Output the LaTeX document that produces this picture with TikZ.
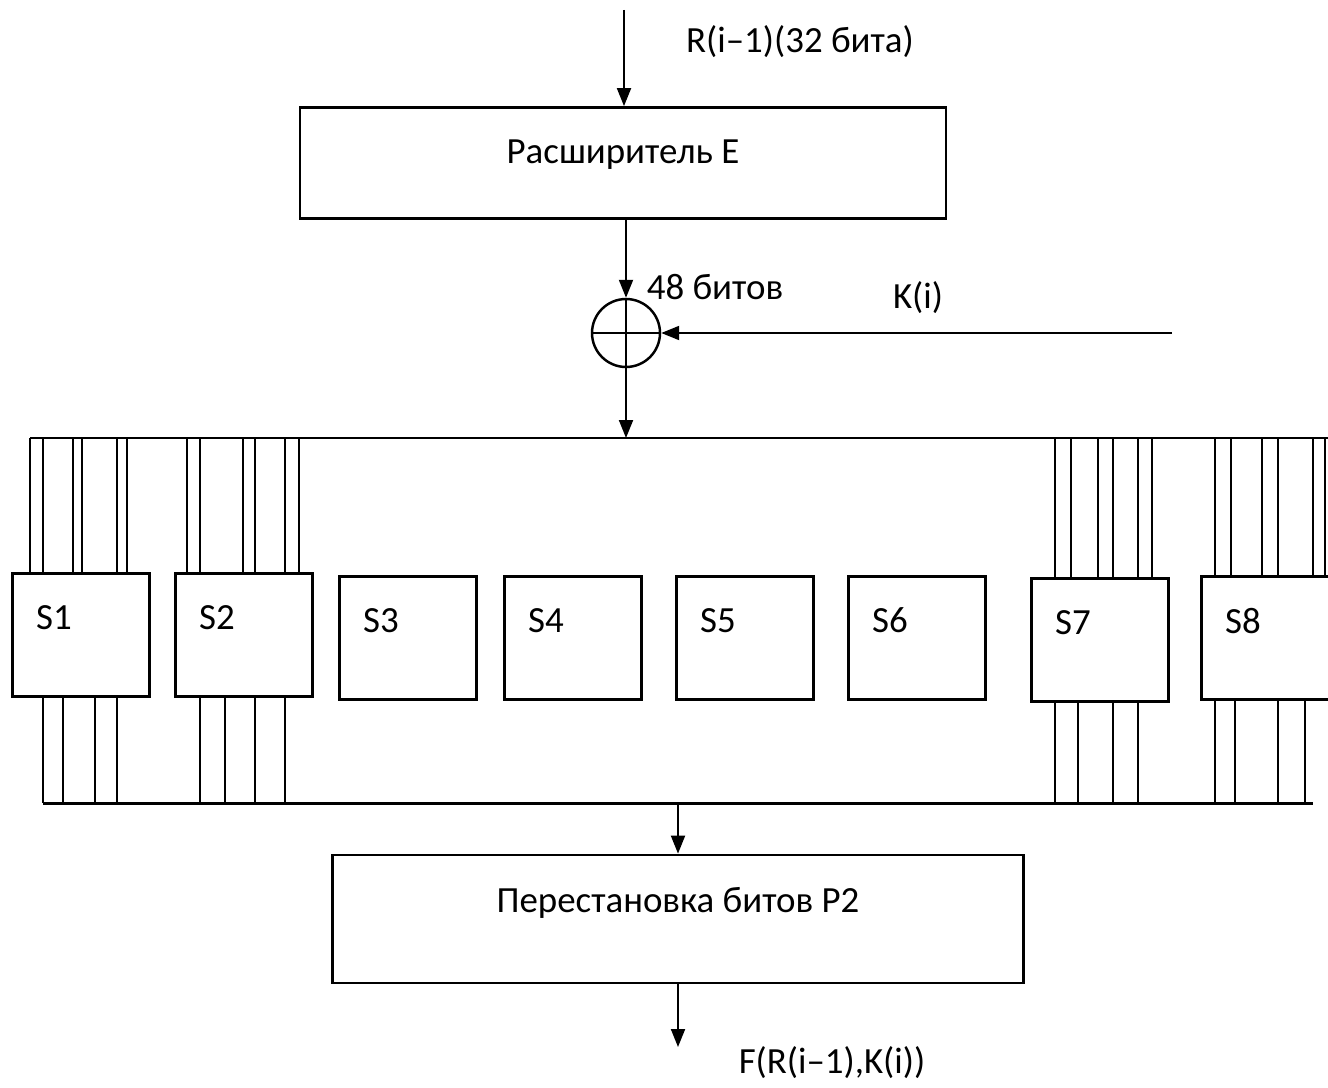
\documentclass[tikz,border=0pt]{standalone}
\usepackage{fontspec}
\setmainfont{Carlito}
\usetikzlibrary{positioning,arrows.meta,calc}

\begin{document}
\begin{tikzpicture}[
    x=0.02cm,
    y=-0.02cm,
    font=\fontsize{21}{25}\selectfont,
    line width=1.1pt,
    block/.style={
        draw,
        line width=1.6pt,
        inner sep=0pt
    },
    sbox/.style={block, minimum width=2.74cm, minimum height=2.46cm},
    slabel/.style={anchor=north west, inner sep=0pt, xshift=0.48cm, yshift=-0.64cm},
    xorop/.style={draw, circle, line width=1.4pt, minimum size=1.36cm, inner sep=0pt},
    arrow/.style={-{Triangle[length=0.36cm, width=0.28cm]}, line width=1.1pt},
    bus/.style={line width=1.7pt},
    wire/.style={line width=1.2pt}
]
\useasboundingbox (0,0) rectangle (1328,1088);

% ============================================================
% РАСШИРИТЕЛЬ И СЛОЖЕНИЕ С КЛЮЧОМ
% ============================================================
\node[block, minimum width=12.92cm, minimum height=2.22cm, text depth=0.45cm]
    (expand) at (623,163) {Расширитель E};
\coordinate (rin) at (624,10);
\node (rlab) at (800,42) {R(i–1)(32 бита)};
\draw[arrow] (rin) -- (rin |- expand.north);

\node[xorop] (xor) at (626,333) {};
\draw[line width=1.4pt] (xor.north) -- (xor.south) (xor.west) -- (xor.east);
\draw[arrow] (expand.south -| xor) -- (xor.north);
\node[anchor=west] (bits48) at (640,287) {48 битов};

\coordinate (kin) at (1172,333);
\node (klab) at (918,298) {K(i)};
\draw[arrow] (kin) -- (xor.east);

% ============================================================
% S-БЛОКИ
% ============================================================
\coordinate (tb) at (30,438);
\coordinate (bb) at (43,803);
\draw[bus] (tb) -- (1340,438);
\draw[bus] (bb) -- (1313,803);
\draw[arrow] (xor.south) -- (xor |- tb);

\foreach \n/\cx/\cy in {1/81/635, 2/244/635, 3/408/638, 4/573/638,
                        5/745/638, 6/917/638, 7/1100/640, 8/1270/638}
    \node[sbox, label={[slabel]north west:S\n}] (s\n) at (\cx,\cy) {};

\foreach \b/\xs in {1/{30,43,73,82,117,127}, 2/{187,200,243,255,285,299},
                    7/{1055,1071,1098,1113,1138,1152}, 8/{1215,1231,1262,1278,1313,1325}}
    \foreach \x in \xs
        \draw[wire] (\x,0 |- tb) -- (\x,0 |- s\b.north);

\foreach \b/\xs in {1/{43,63,95,117}, 2/{200,225,255,285},
                    7/{1055,1078,1113,1138}, 8/{1215,1235,1278,1305}}
    \foreach \x in \xs
        \draw[wire] (\x,0 |- s\b.south) -- (\x,0 |- bb);

% ============================================================
% ПЕРЕСТАНОВКА P2
% ============================================================
\node[block, minimum width=13.82cm, minimum height=2.56cm, text depth=0.75cm]
    (perm) at (678,919) {Перестановка битов P2};
\draw[arrow] (perm.north |- bb) -- (perm.north);
\coordinate (fout) at (678,1047);
\draw[arrow] (perm.south) -- (fout);
\node (flab) at (832,1063) {F(R(i–1),K(i))};

\end{tikzpicture}
\end{document}
